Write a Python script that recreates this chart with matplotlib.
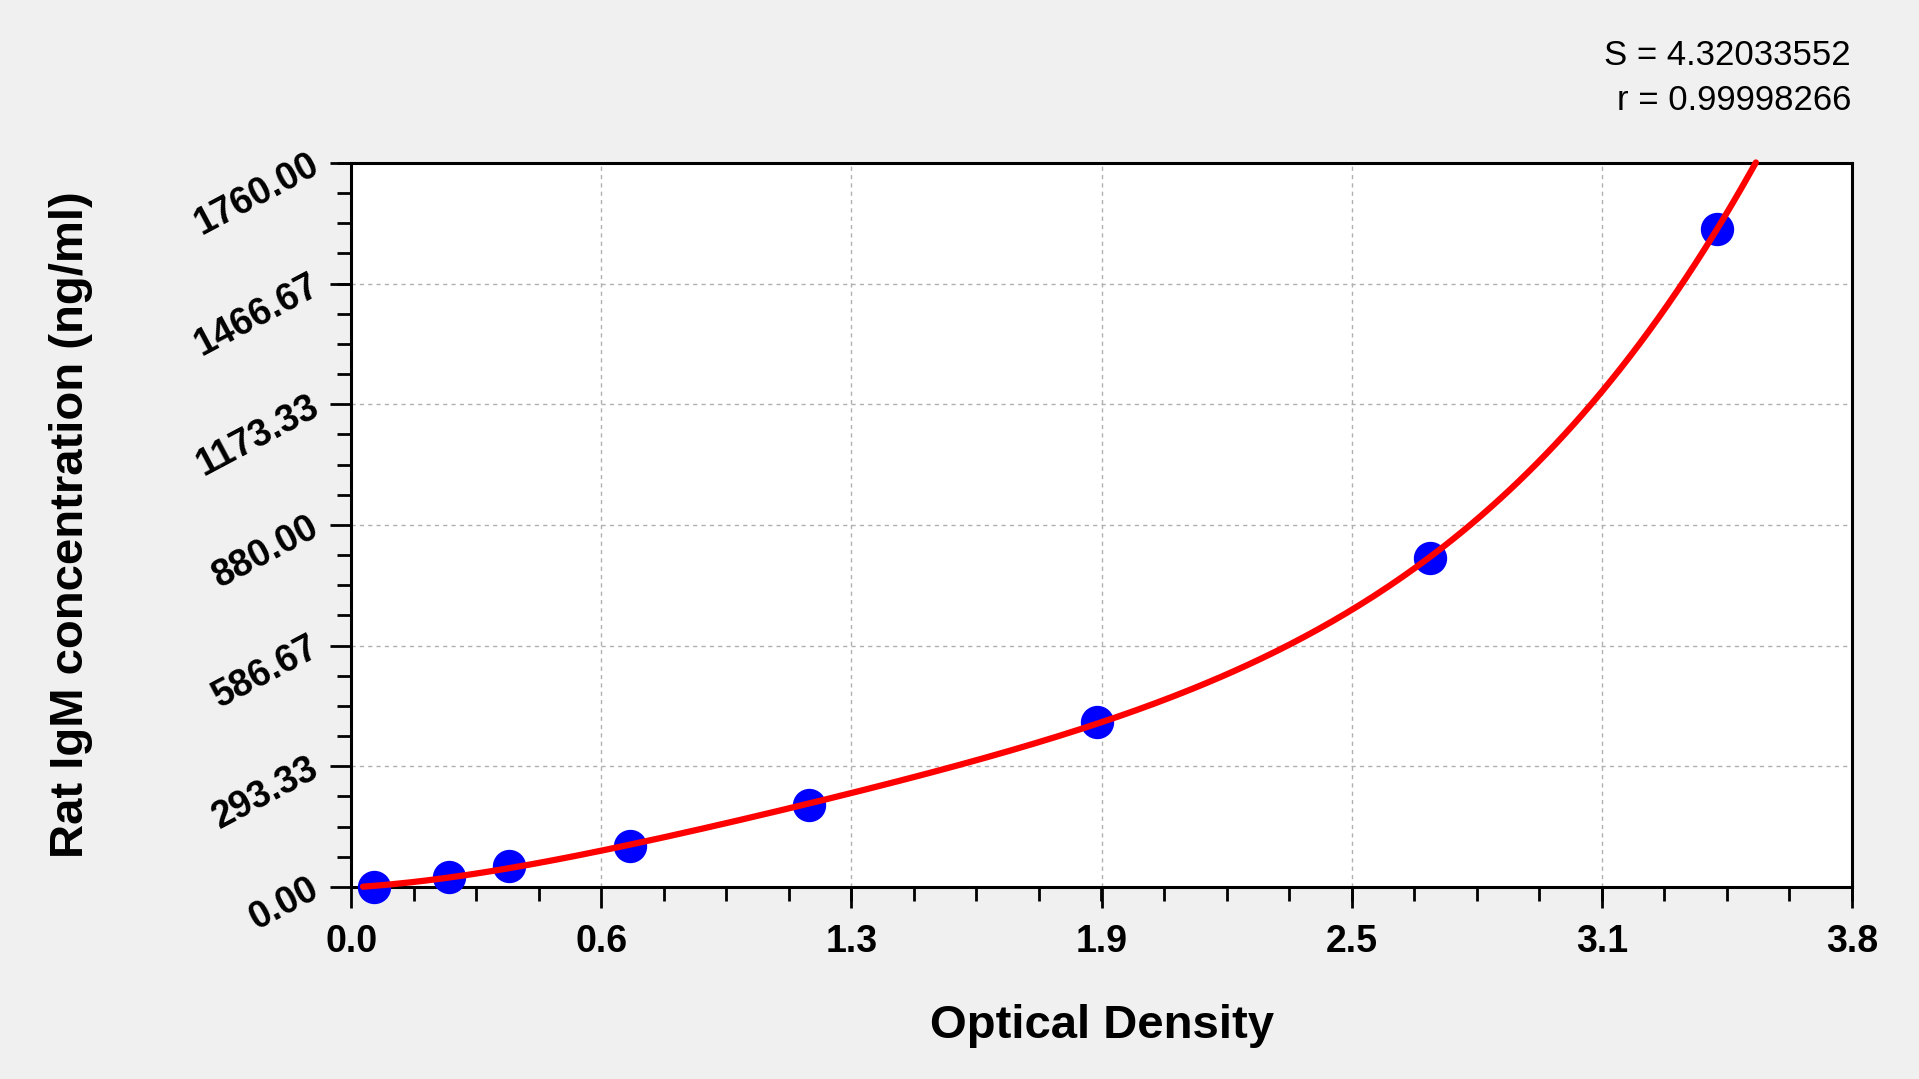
import numpy as np
import matplotlib
matplotlib.use("Agg")
import matplotlib.pyplot as plt
from matplotlib.ticker import FixedLocator, AutoMinorLocator

# standards
od = [0.059, 0.248, 0.400, 0.707, 1.159, 1.888, 2.731, 3.459]
conc = [0, 25, 50, 100, 200, 400, 800, 1600]

x_ticks = [0.0, 0.6333, 1.2667, 1.9, 2.5333, 3.1667, 3.8]
x_labels = ['0.0', '0.6', '1.3', '1.9', '2.5', '3.1', '3.8']
y_ticks = [0.0, 293.33, 586.67, 880.0, 1173.33, 1466.67, 1760.0]
y_labels = ['0.00', '293.33', '586.67', '880.00', '1173.33', '1466.67', '1760.00']

s_text = 'S = 4.32033552'
r_text = 'r = 0.99998266'

plt.rcParams['font.family'] = ['Liberation Sans', 'DejaVu Sans']

fig = plt.figure(figsize=(19.19, 10.79), dpi=100, facecolor='#f0f0f0')
ax = fig.add_axes([0.183, 0.178, 0.782, 0.671])
ax.set_facecolor('white')

# fitted standard curve (polynomial fit of the standards)
coef = np.polyfit(od, conc, 4)
xs = np.linspace(0.03, 3.557, 300)
ys = np.polyval(coef, xs)

ax.plot(od, conc, 'o', color='#0000ff', markersize=23, zorder=3, clip_on=False)
ax.plot(xs, ys, color='#ff0000', linewidth=4.5, zorder=4, clip_on=False,
        solid_capstyle='round')

ax.set_xlim(0, 3.8)
ax.set_ylim(0, 1760)
ax.xaxis.set_major_locator(FixedLocator(x_ticks))
ax.yaxis.set_major_locator(FixedLocator(y_ticks))
ax.xaxis.set_minor_locator(AutoMinorLocator(4))
ax.yaxis.set_minor_locator(AutoMinorLocator(4))
ax.set_xticklabels(x_labels, fontsize=27, fontweight='bold')
ax.set_yticklabels(y_labels, fontsize=27, fontweight='bold', rotation=28,
                   rotation_mode='anchor', ha='right', va='center')

ax.tick_params(which='major', direction='out', length=15, width=2, pad=12)
ax.tick_params(which='minor', direction='out', length=10, width=2)
ax.tick_params(axis='y', which='major', pad=10)

for sp in ax.spines.values():
    sp.set_linewidth(2.2)
    sp.set_color('black')

ax.grid(True, which='major', linestyle=(0, (3, 3)), color='#b0b0b0', linewidth=1)
ax.set_axisbelow(True)

ax.set_xlabel('Optical Density', fontsize=34, fontweight='bold', va='center')
ax.xaxis.set_label_coords(0.5, -0.192)
ax.set_ylabel('Rat IgM concentration (ng/ml)', fontsize=34, fontweight='bold',
              va='center', ha='center')
ax.yaxis.set_label_coords(-0.187, 0.5)

fig.text(0.9646, 0.949, s_text, fontsize=25, ha='right', va='center')
fig.text(0.9646, 0.907, r_text, fontsize=25, ha='right', va='center')

fig.savefig('out.png', dpi=100, facecolor=fig.get_facecolor())
